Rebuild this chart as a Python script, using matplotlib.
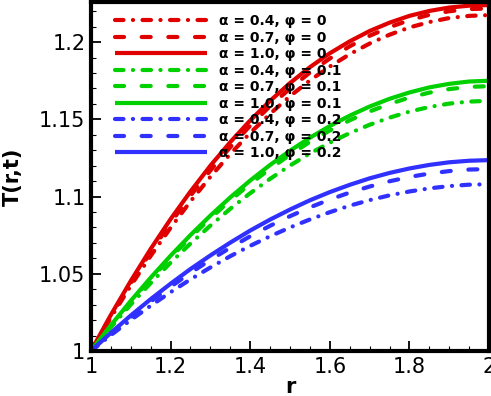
import numpy as np
import matplotlib
matplotlib.use("Agg")
import matplotlib.pyplot as plt
from matplotlib.ticker import MultipleLocator

# radial position
r = [1.0, 1.05, 1.1, 1.15, 1.2, 1.25, 1.3, 1.35, 1.4, 1.45, 1.5,
     1.55, 1.6, 1.65, 1.7, 1.75, 1.8, 1.85, 1.9, 1.95, 2.0]

# T(r,t), phi = 0
T_a04_p0 = [1.0, 1.0217, 1.0423, 1.0616, 1.0798, 1.0969, 1.1128, 1.1276, 1.1412, 1.1536, 1.1650,
            1.1752, 1.1842, 1.1922, 1.1991, 1.2048, 1.2095, 1.2130, 1.2156, 1.2170, 1.2175]
T_a07_p0 = [1.0, 1.0226, 1.0440, 1.0641, 1.0830, 1.1006, 1.1169, 1.1320, 1.1459, 1.1586, 1.1700,
            1.1803, 1.1894, 1.1973, 1.2041, 1.2097, 1.2142, 1.2177, 1.2200, 1.2214, 1.2218]
T_a10_p0 = [1.0, 1.0234, 1.0454, 1.0661, 1.0854, 1.1033, 1.1200, 1.1353, 1.1493, 1.1620, 1.1735,
            1.1838, 1.1928, 1.2005, 1.2072, 1.2126, 1.2170, 1.2202, 1.2224, 1.2236, 1.2240]
# phi = 0.1
T_a04_p1 = [1.0, 1.0154, 1.0301, 1.0440, 1.0572, 1.0696, 1.0812, 1.0921, 1.1022, 1.1115, 1.1201,
            1.1279, 1.1349, 1.1411, 1.1465, 1.1511, 1.1550, 1.1580, 1.1602, 1.1615, 1.1620]
T_a07_p1 = [1.0, 1.0163, 1.0318, 1.0466, 1.0605, 1.0736, 1.0860, 1.0975, 1.1082, 1.1180, 1.1271,
            1.1354, 1.1428, 1.1494, 1.1551, 1.1600, 1.1641, 1.1673, 1.1696, 1.1710, 1.1715]
T_a10_p1 = [1.0, 1.0167, 1.0325, 1.0475, 1.0617, 1.0751, 1.0877, 1.0995, 1.1104, 1.1205, 1.1297,
            1.1381, 1.1457, 1.1524, 1.1583, 1.1633, 1.1674, 1.1707, 1.1730, 1.1745, 1.1750]
# phi = 0.2
T_a04_p2 = [1.0, 1.0103, 1.0201, 1.0293, 1.0381, 1.0464, 1.0541, 1.0614, 1.0681, 1.0743, 1.0800,
            1.0852, 1.0899, 1.0941, 1.0977, 1.1008, 1.1033, 1.1053, 1.1068, 1.1077, 1.1080]
T_a07_p2 = [1.0, 1.0112, 1.0219, 1.0320, 1.0416, 1.0506, 1.0590, 1.0669, 1.0743, 1.0811, 1.0873,
            1.0930, 1.0981, 1.1026, 1.1065, 1.1099, 1.1127, 1.1149, 1.1165, 1.1175, 1.1178]
T_a10_p2 = [1.0, 1.0118, 1.0230, 1.0336, 1.0436, 1.0531, 1.0619, 1.0702, 1.0780, 1.0851, 1.0916,
            1.0976, 1.1029, 1.1076, 1.1118, 1.1153, 1.1182, 1.1205, 1.1222, 1.1232, 1.1236]

labels = ["α = 0.4, φ = 0", "α = 0.7, φ = 0", "α = 1.0, φ = 0",
          "α = 0.4, φ = 0.1", "α = 0.7, φ = 0.1", "α = 1.0, φ = 0.1",
          "α = 0.4, φ = 0.2", "α = 0.7, φ = 0.2", "α = 1.0, φ = 0.2"]

series = [T_a04_p0, T_a07_p0, T_a10_p0,
          T_a04_p1, T_a07_p1, T_a10_p1,
          T_a04_p2, T_a07_p2, T_a10_p2]

colors = ["#e00000"] * 3 + ["#00d000"] * 3 + ["#3030ff"] * 3
dashdot = (6.1, 6.8, 0.1, 6.8)
dashed = (6.5, 12.7)

plt.rcParams['lines.scale_dashes'] = False

fig = plt.figure(figsize=(4.91, 3.96), dpi=100)
ax = fig.add_axes([0.1853, 0.1136, 0.8107, 0.8814])

for i, (ys, lab, c) in enumerate(zip(series, labels, colors)):
    kind = i % 3
    if kind == 0:
        ax.plot(r, ys, color=c, lw=3, dashes=dashdot, dash_capstyle='round', label=lab)
    elif kind == 1:
        ax.plot(r, ys, color=c, lw=3, dashes=dashed, dash_capstyle='round', label=lab)
    else:
        ax.plot(r, ys, color=c, lw=3, solid_capstyle='butt', label=lab)

ax.set_xlim(1, 2)
ax.set_ylim(1, 1.226)
ax.xaxis.set_minor_locator(MultipleLocator(0.05))
ax.yaxis.set_minor_locator(MultipleLocator(0.01))
ax.set_xticks([1, 1.2, 1.4, 1.6, 1.8, 2])
ax.set_xticklabels(['1', '1.2', '1.4', '1.6', '1.8', '2'])
ax.set_yticks([1, 1.05, 1.1, 1.15, 1.2])
ax.set_yticklabels(['1', '1.05', '1.1', '1.15', '1.2'])
ax.tick_params(which='major', direction='in', length=7, width=1.3, labelsize=15, pad=4)
ax.tick_params(which='minor', direction='in', length=3.5, width=0.8)
for s in ax.spines.values():
    s.set_linewidth(3)

ax.set_xlabel('r', fontsize=15, fontweight='bold', labelpad=0)
ax.set_ylabel('T(r,t)', fontsize=15, fontweight='bold', labelpad=12)

ax.legend(loc='upper left', frameon=False, prop={'weight': 'bold', 'size': 10},
          handlelength=6.6, handletextpad=0.9, labelspacing=0.18,
          bbox_to_anchor=(0.06, 0.965), borderaxespad=0, borderpad=0)

fig.savefig('out.png', dpi=100)
